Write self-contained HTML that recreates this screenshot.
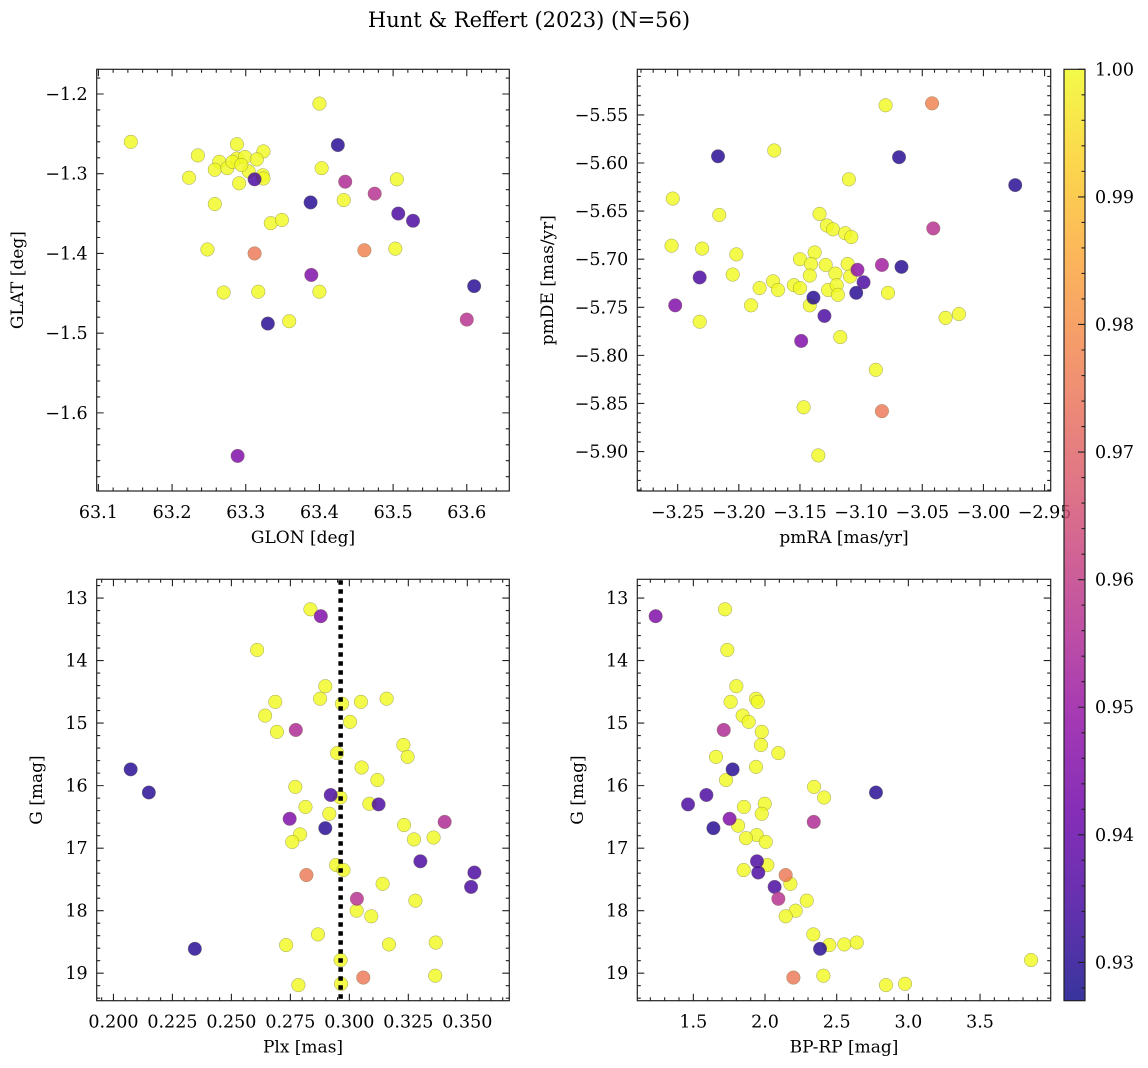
<!DOCTYPE html>
<html><head><meta charset="utf-8"><style>
html,body{margin:0;padding:0;background:#fff;}
svg{display:block;font-family:"DejaVu Serif","Liberation Serif",serif;}
</style></head><body>
<svg id="fig" width="1148" height="1068" viewBox="0 0 1148 1068" xmlns="http://www.w3.org/2000/svg">
<text x="529" y="27" text-anchor="middle" font-size="21">Hunt &amp; Reffert (2023) (N=56)</text>
</svg>
<script>
// ---- data: panel 1 (GLON vs GLAT) ----
const tlGlon=[63.144,63.235,63.223,63.258,63.248,63.270,63.317,63.359,63.334,63.349,63.400,63.403,63.433,63.400,63.505,63.503,63.288,63.324,63.264,63.258,63.275,63.288,63.299,63.315,63.304,63.323,63.324,63.291,63.282,63.294,63.425,63.312,63.388,63.507,63.527,63.610,63.330,63.435,63.475,63.389,63.600,63.289,63.312,63.461];
const tlGlat=[-1.260,-1.277,-1.305,-1.338,-1.395,-1.449,-1.448,-1.485,-1.362,-1.358,-1.212,-1.293,-1.333,-1.448,-1.307,-1.394,-1.263,-1.272,-1.285,-1.295,-1.293,-1.281,-1.279,-1.282,-1.297,-1.302,-1.306,-1.312,-1.285,-1.289,-1.264,-1.307,-1.336,-1.350,-1.359,-1.441,-1.488,-1.310,-1.325,-1.427,-1.483,-1.654,-1.400,-1.396];
const tlProb=[1,1,1,1,1,1,1,1,1,1,1,1,1,1,1,1,1,1,1,1,1,1,1,1,1,1,1,1,1,1,0.93,0.935,0.93,0.935,0.935,0.93,0.93,0.955,0.957,0.945,0.957,0.945,0.975,0.977];
// ---- data: panel 2 (pmRA vs pmDE) ----
const trPmra=[-3.080,-3.171,-3.110,-3.254,-3.216,-3.255,-3.230,-3.202,-3.205,-3.134,-3.128,-3.123,-3.113,-3.108,-3.138,-3.150,-3.141,-3.129,-3.111,-3.142,-3.121,-3.109,-3.172,-3.183,-3.168,-3.155,-3.150,-3.127,-3.120,-3.119,-3.142,-3.190,-3.232,-3.078,-3.031,-3.020,-3.117,-3.088,-3.147,-3.135,-3.217,-3.069,-2.974,-3.232,-3.067,-3.098,-3.104,-3.139,-3.130,-3.041,-3.083,-3.103,-3.252,-3.149,-3.042,-3.083];
const trPmde=[-5.540,-5.587,-5.617,-5.637,-5.654,-5.686,-5.689,-5.695,-5.716,-5.653,-5.665,-5.669,-5.673,-5.677,-5.693,-5.700,-5.705,-5.706,-5.705,-5.717,-5.715,-5.718,-5.723,-5.730,-5.732,-5.727,-5.730,-5.732,-5.727,-5.737,-5.748,-5.748,-5.765,-5.735,-5.761,-5.757,-5.781,-5.815,-5.854,-5.904,-5.593,-5.594,-5.623,-5.719,-5.708,-5.724,-5.735,-5.740,-5.759,-5.668,-5.706,-5.711,-5.748,-5.785,-5.538,-5.858];
const trProb=[1,1,1,1,1,1,1,1,1,1,1,1,1,1,1,1,1,1,1,1,1,1,1,1,1,1,1,1,1,1,1,1,1,1,1,1,1,1,1,1,0.93,0.93,0.93,0.935,0.93,0.935,0.93,0.93,0.935,0.957,0.952,0.948,0.945,0.945,0.977,0.975];
// ---- data: panel 3 (Plx vs G) ----
const blPlx=[0.2835,0.2609,0.2898,0.2686,0.2876,0.2969,0.3049,0.3158,0.2643,0.3003,0.2693,0.3229,0.3247,0.2948,0.3052,0.3119,0.2771,0.2962,0.3085,0.2814,0.2915,0.3232,0.2791,0.2758,0.3274,0.3357,0.2944,0.2975,0.3141,0.3280,0.3031,0.3093,0.2867,0.2732,0.3168,0.3366,0.2963,0.3364,0.2784,0.2965,0.2073,0.2150,0.2345,0.2921,0.3124,0.2898,0.3301,0.3530,0.3516,0.2879,0.2773,0.2747,0.3404,0.3032,0.2818,0.3059];
const blG=[13.18,13.83,14.41,14.66,14.61,14.69,14.66,14.61,14.88,14.98,15.14,15.35,15.54,15.48,15.71,15.91,16.02,16.19,16.29,16.34,16.45,16.63,16.78,16.90,16.86,16.83,17.27,17.35,17.57,17.84,18.00,18.09,18.38,18.55,18.54,18.51,18.79,19.04,19.19,19.17,15.74,16.11,18.61,16.15,16.30,16.68,17.21,17.39,17.62,13.29,15.11,16.53,16.58,17.81,17.43,19.07];
const blProb=[1,1,1,1,1,1,1,1,1,1,1,1,1,1,1,1,1,1,1,1,1,1,1,1,1,1,1,1,1,1,1,1,1,1,1,1,1,1,1,1,0.93,0.93,0.93,0.935,0.935,0.93,0.935,0.935,0.935,0.945,0.955,0.945,0.955,0.957,0.975,0.975];
const plxMean=[0.2963];
// ---- data: panel 4 (BP-RP vs G) ----
const brColor=[1.721,1.737,1.800,1.760,1.937,1.949,1.844,1.886,1.977,1.972,2.093,1.658,1.937,1.728,2.342,2.412,1.998,1.853,1.977,1.812,1.942,1.867,2.005,2.016,1.851,2.177,2.291,2.214,2.144,2.337,2.449,2.553,2.640,3.856,2.407,2.844,2.977,1.774,1.591,1.463,1.640,2.774,1.944,1.953,2.067,2.384,1.237,1.712,1.753,2.340,2.093,2.144,2.198];
const brG=[13.18,13.83,14.41,14.66,14.61,14.66,14.88,14.98,15.14,15.35,15.48,15.54,15.70,15.91,16.02,16.19,16.29,16.34,16.45,16.64,16.79,16.84,16.90,17.27,17.35,17.57,17.84,18.00,18.09,18.38,18.55,18.54,18.51,18.79,19.04,19.19,19.17,15.74,16.15,16.30,16.68,16.11,17.21,17.39,17.62,18.61,13.29,15.11,16.53,16.58,17.81,17.43,19.07];
const brProb=[1,1,1,1,1,1,1,1,1,1,1,1,1,1,1,1,1,1,1,1,1,1,1,1,1,1,1,1,1,1,1,1,1,1,1,1,1,0.93,0.935,0.935,0.93,0.93,0.935,0.935,0.935,0.93,0.945,0.955,0.945,0.955,0.957,0.975,0.975];
// ---- tick labels ----
const tlXTicks=[63.1,63.2,63.3,63.4,63.5,63.6];
const tlYTicks=[-1.2,-1.3,-1.4,-1.5,-1.6];
const trXTicks=[-3.25,-3.20,-3.15,-3.10,-3.05,-3.00,-2.95];
const trYTicks=[-5.55,-5.60,-5.65,-5.70,-5.75,-5.80,-5.85,-5.90];
const blXTicks=[0.200,0.225,0.250,0.275,0.300,0.325,0.350];
const gTicks=[13,14,15,16,17,18,19];
const brXTicks=[1.5,2.0,2.5,3.0,3.5];
const cbTicks=[0.93,0.94,0.95,0.96,0.97,0.98,0.99,1.00];

const NS='http://www.w3.org/2000/svg';
const svg=document.getElementById('fig');
const VMIN=0.927,VMAX=1.0;
const TICKFS=17.5, LABFS=17;
const plasma=[[13,8,135],[65,4,157],[106,0,168],[143,13,164],[177,42,144],[204,71,120],[225,100,98],[242,132,75],[252,166,54],[252,206,37],[240,249,33]];
function cmap(v){let t=(v-VMIN)/(VMAX-VMIN);t=Math.max(0,Math.min(1,t));const f=t*10,i=Math.min(9,Math.floor(f)),r=f-i;const a=plasma[i],b=plasma[i+1];return 'rgb('+a.map((c,k)=>Math.round(c+(b[k]-c)*r)).join(',')+')';}
function el(tag,attrs,parent){const e=document.createElementNS(NS,tag);for(const k in attrs)e.setAttribute(k,attrs[k]);(parent||svg).appendChild(e);return e;}
function fmt(v,d){return (v<0?'\u2212':'')+Math.abs(v).toFixed(d);}

function panel(cfg){
  const g=el('g',{});
  
  
  const L=cfg.L,R=cfg.R,T=cfg.T,B=cfg.B;
  const sx=v=>L+(v-cfg.x0)/(cfg.x1-cfg.x0)*(R-L);
  const sy=v=>cfg.yInv?T+(v-cfg.y0)/(cfg.y1-cfg.y0)*(B-T):B-(v-cfg.y0)/(cfg.y1-cfg.y0)*(B-T);
  for(let i=0;i<cfg.xs.length;i++){
    const c=el('circle',{cx:sx(cfg.xs[i]),cy:sy(cfg.ys[i]),r:6.8,fill:cmap(cfg.ps[i]),'fill-opacity':0.82,stroke:'#7a7a50','stroke-width':0.5,'stroke-opacity':0.7},g);
    
    
  }
  if(cfg.vline!==undefined){
    const vx=sx(cfg.vline);
    let d='';
    for(let y=T+1;y<B;y+=9){const h=Math.min(4.5,B-y);d+=`M${vx-2.25},${y}h4.5v${h}h-4.5z`;}
    const l=el('path',{d:d,fill:'#000'},g);
    
    
  }
  const fr=el('rect',{x:L,y:T,width:R-L,height:B-T,fill:'none',stroke:'#222','stroke-width':1.2},g);
  
  
  const mn=(a,b)=>Math.min(a,b),mx=(a,b)=>Math.max(a,b);
  const xlo=mn(cfg.x0,cfg.x1),xhi=mx(cfg.x0,cfg.x1),ylo=mn(cfg.y0,cfg.y1),yhi=mx(cfg.y0,cfg.y1);
  let p='';
  for(let k=Math.ceil(xlo/cfg.xm-1e-6);k*cfg.xm<=xhi+1e-9;k++){const x=sx(k*cfg.xm);p+=`M${x},${B}v-3.5M${x},${T}v3.5`;}
  for(let k=Math.ceil(ylo/cfg.ym-1e-6);k*cfg.ym<=yhi+1e-9;k++){const y=sy(k*cfg.ym);p+=`M${L},${y}h3.5M${R},${y}h-3.5`;}
  for(const v of cfg.xt){const x=sx(v);p+=`M${x},${B}v-7M${x},${T}v7`;}
  for(const v of cfg.yt){const y=sy(v);p+=`M${L},${y}h7M${R},${y}h-7`;}
  el('path',{d:p,stroke:'#222','stroke-width':1.1,fill:'none'},g);
  for(const v of cfg.xt){const t=el('text',{x:sx(v),y:B+27,'text-anchor':'middle','font-size':TICKFS},g);t.textContent=fmt(v,cfg.xd);
    }
  for(const v of cfg.yt){const t=el('text',{x:L-9,y:sy(v)+6,'text-anchor':'end','font-size':TICKFS},g);t.textContent=fmt(v,cfg.yd);
    }
  const xl=el('text',{x:(L+R)/2,y:B+52,'text-anchor':'middle','font-size':LABFS},g);xl.textContent=cfg.xlab;
  
  const yx=cfg.ylx,yy=(T+B)/2;
  const yl=el('text',{x:yx,y:yy,'text-anchor':'middle','font-size':LABFS,transform:`rotate(-90 ${yx} ${yy})`},g);yl.textContent=cfg.ylab;
  
}

panel({name:'glon-glat-panel',L:96.7,R:509.3,T:69.3,B:491,x0:63.0977,x1:63.6577,y0:-1.698,y1:-1.169,xs:tlGlon,ys:tlGlat,ps:tlProb,xt:tlXTicks,yt:tlYTicks,xm:0.02,ym:0.02,xd:1,yd:1,xlab:'GLON [deg]',ylab:'GLAT [deg]',ylx:23});
panel({name:'proper-motion-panel',L:637.3,R:1050.7,T:69.3,B:491,x0:-3.283,x1:-2.945,y0:-5.941,y1:-5.5026,xs:trPmra,ys:trPmde,ps:trProb,xt:trXTicks,yt:trYTicks,xm:0.01,ym:0.01,xd:2,yd:2,xlab:'pmRA [mas/yr]',ylab:'pmDE [mas/yr]',ylx:553});
panel({name:'parallax-magnitude-panel',L:96.7,R:509.3,T:579.3,B:1000.7,x0:0.1929,x1:0.3678,y0:12.70,y1:19.44,yInv:true,xs:blPlx,ys:blG,ps:blProb,xt:blXTicks,yt:gTicks,xm:0.005,ym:0.2,xd:3,yd:0,xlab:'Plx [mas]',ylab:'G [mag]',ylx:42,vline:plxMean[0]});
panel({name:'color-magnitude-panel',L:637.3,R:1050.7,T:579.3,B:1000.7,x0:1.109,x1:3.993,y0:12.70,y1:19.44,yInv:true,xs:brColor,ys:brG,ps:brProb,xt:brXTicks,yt:gTicks,xm:0.1,ym:0.2,xd:1,yd:0,xlab:'BP-RP [mag]',ylab:'G [mag]',ylx:583});

(function(){
  const g=el('g',{});
  
  
  const L=1064,R=1085,T=69.3,B=1000.7;
  const sy=v=>B-(v-VMIN)/(VMAX-VMIN)*(B-T);
  const defs=el('defs',{},g);
  const lg=el('linearGradient',{id:'cbg',x1:0,y1:1,x2:0,y2:0},defs);
  for(let i=0;i<=20;i++){const v=VMIN+(VMAX-VMIN)*i/20;el('stop',{offset:i/20,'stop-color':cmap(v),'stop-opacity':0.82},lg);}
  el('rect',{x:L,y:T,width:R-L,height:B-T,fill:'url(#cbg)',stroke:'#222','stroke-width':1.2},g);
  let p='';
  for(let k=Math.ceil(VMIN/0.002);k*0.002<=VMAX+1e-9;k++){p+=`M${R},${sy(k*0.002)}h-3.5`;}
  for(const v of cbTicks){p+=`M${R},${sy(v)}h-7`;}
  el('path',{d:p,stroke:'#222','stroke-width':1.1},g);
  for(const v of cbTicks){const t=el('text',{x:R+10,y:sy(v)+6,'font-size':TICKFS},g);t.textContent=v.toFixed(2);
    }
})();
</script>
</body></html>
